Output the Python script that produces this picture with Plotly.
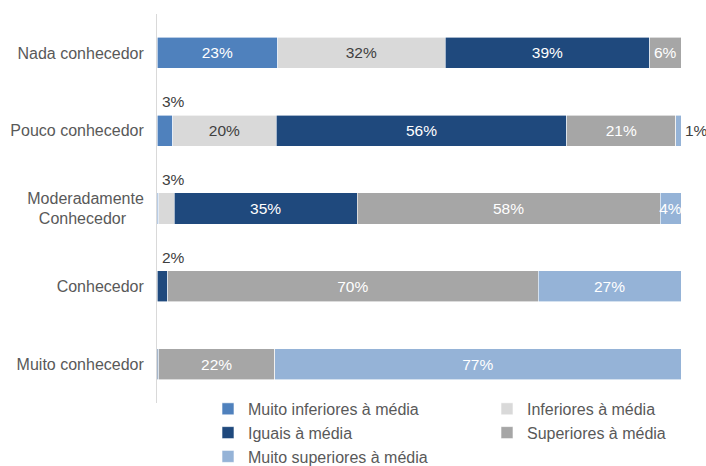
import plotly.graph_objects as go

# Knowledge level groups (top to bottom)
categories = ["Nada conhecedor", "Pouco conhecedor", "Moderadamente Conhecedor",
              "Conhecedor", "Muito conhecedor"]
tick_labels = ["Nada conhecedor", "Pouco conhecedor",
               "Moderadamente<br>Conhecedor\u00a0\u00a0\u00a0\u00a0",
               "Conhecedor", "Muito conhecedor"]

# Share of answers per group (%)
series_names = ["Muito inferiores à média", "Inferiores à média", "Iguais à média",
                "Superiores à média", "Muito superiores à média"]
muito_inferiores = [23, 3, 0.3, 0, 0]
inferiores = [32, 20, 3, 0, 0]
iguais = [39, 56, 35, 2, 0.3]
superiores = [6, 21, 58, 70, 22]
muito_superiores = [0, 1, 4, 27, 77]
series_values = [muito_inferiores, inferiores, iguais, superiores, muito_superiores]

colors = ["#4F81BD", "#D9D9D9", "#1F497D", "#A6A6A6", "#95B3D7"]
text_colors = ["white", "#404040", "white", "white", "white"]
# Legend column each series is listed in
legend_ids = ["legend", "legend2", "legend", "legend2", "legend"]

# Small segments whose labels sit outside the bar: (series, category, placement)
outside_labels = [(0, 1, "above"), (1, 2, "above"), (2, 3, "above"), (4, 1, "right")]

FONT = "Liberation Sans, Arial, sans-serif"
FS = 16

fig = go.Figure()
for name, vals, col, tcol, lg in zip(series_names, series_values, colors,
                                     text_colors, legend_ids):
    fig.add_trace(go.Bar(
        name=name, y=categories, x=vals, orientation="h", legend=lg,
        marker=dict(color=col, line=dict(color="white", width=0.6)),
        text=[f"{v:g}%" if v >= 4 else "" for v in vals],
        textposition="inside", insidetextanchor="middle", textangle=0,
        textfont=dict(color=tcol, size=15.5, family=FONT),
        hoverinfo="skip",
    ))

for s, c, place in outside_labels:
    v = series_values[s][c]
    if place == "above":
        fig.add_annotation(x=0, y=categories[c], text=f"{v:g}%", showarrow=False,
                           xanchor="left", yanchor="middle", xshift=3, yshift=29,
                           font=dict(color="#404040", size=15.5, family=FONT))
    else:
        fig.add_annotation(x=100, y=categories[c], text=f"{v:g}%", showarrow=False,
                           xanchor="left", yanchor="middle", xshift=2,
                           font=dict(color="#404040", size=15.5, family=FONT))

legend_style = dict(orientation="v", xref="container", yref="container",
                    xanchor="left", yanchor="top", y=0.159, traceorder="normal",
                    font=dict(color="#595959", size=FS, family=FONT),
                    itemclick=False, itemdoubleclick=False,
                    bgcolor="rgba(0,0,0,0)")

fig.update_layout(
    width=706, height=466,
    barmode="stack", barnorm="percent", bargap=0.6,
    margin=dict(l=157, r=25, t=14, b=63, autoexpand=False),
    plot_bgcolor="white", paper_bgcolor="white",
    font=dict(family=FONT, size=FS, color="#595959"),
    uniformtext=dict(minsize=15.5, mode="show"),
    xaxis=dict(range=[0, 100], visible=False, fixedrange=True),
    yaxis=dict(autorange="reversed", tickvals=categories, ticktext=tick_labels,
               showline=True, linecolor="#D9D9D9", linewidth=1, ticks="",
               ticklabelstandoff=9, showgrid=False,
               tickfont=dict(color="#595959", size=FS, family=FONT)),
    legend=dict(x=208 / 706, **legend_style),
    legend2=dict(x=487 / 706, **legend_style),
    showlegend=True,
)

fig.write_html("out.html")
